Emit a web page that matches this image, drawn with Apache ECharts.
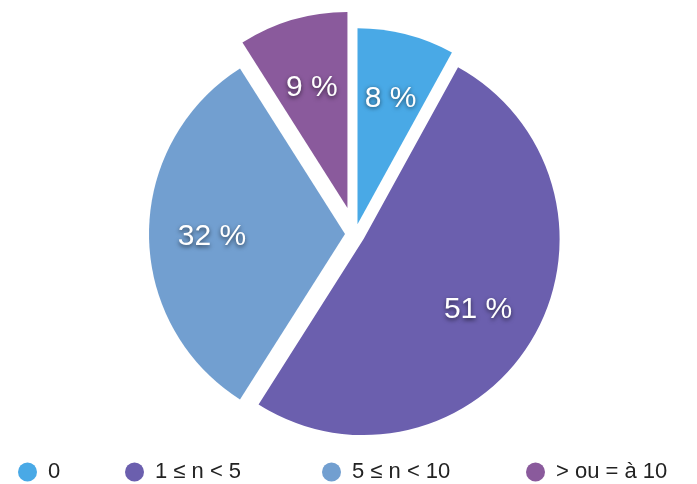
<!DOCTYPE html>
<html>
<head>
<meta charset="utf-8">
<script src="https://cdn.jsdelivr.net/npm/echarts@6/dist/echarts.min.js"></script>
<style>
html,body{margin:0;padding:0;background:#fff;}
#chart{width:697px;height:484px;}
</style>
</head>
<body>
<div id="chart"></div>
<script>
// ---- data ----
const categories = ['0', '1 ≤ n < 5', '5 ≤ n < 10', '> ou = à 10'];
const values = [8, 51, 32, 9];
const colors = ['#49a9e6', '#6b5fae', '#729fd0', '#8a5a9c'];
const farExploded = ['> ou = à 10'];

// ---- layout/style ----
const center = [355, 234];
const labelCenter = [355, 237];
const R = 196;
const labelFont = {
  color: '#ffffff',
  fontSize: 30,
  fontFamily: 'Liberation Sans, Arial, sans-serif',
  textShadowColor: 'rgba(0,0,0,0.6)',
  textShadowBlur: 4,
  textShadowOffsetY: 1.5
};

function pieSeries(visibleFn, offset, radius, withLabels, visibleSectors, ctr) {
  return {
    type: 'pie',
    center: ctr,
    radius: radius,
    startAngle: 90,
    clockwise: true,
    selectedMode: 'multiple',
    selectedOffset: offset,
    avoidLabelOverlap: false,
    silent: true,
    emphasis: { disabled: true },
    labelLine: { show: false },
    data: categories.map((c, i) => {
      const vis = visibleFn(c);
      return {
        name: c,
        value: values[i],
        selected: true,
        itemStyle: { color: (visibleSectors && vis) ? colors[i] : 'rgba(0,0,0,0)' },
        label: { show: withLabels && vis, position: 'inside', formatter: '{c} %', ...labelFont }
      };
    })
  };
}

const series = [
  pieSeries(c => !farExploded.includes(c), 10, [0, R], false, true, center),
  pieSeries(c => farExploded.includes(c), 27, [0, R], false, true, center),
  pieSeries(c => !farExploded.includes(c), 10, [64, R], true, false, labelCenter),
  pieSeries(c => farExploded.includes(c), 27, [54, R], true, false, labelCenter)
];

const legendLefts = [13, 120, 317, 521];
const legends = categories.map((c, i) => ({
  left: legendLefts[i],
  top: 456,
  icon: 'circle',
  itemWidth: 19,
  itemHeight: 19,
  selectedMode: false,
  textStyle: { fontSize: 22, color: '#222', fontFamily: 'Liberation Sans, Arial, sans-serif', padding: [0, 0, 0, 6] },
  data: [{ name: c, itemStyle: { color: colors[i] } }]
}));

const chart = echarts.init(document.getElementById('chart'), null, { renderer: 'canvas' });
chart.setOption({
  animation: false,
  backgroundColor: '#ffffff',
  legend: legends,
  series: series
});
</script>
</body>
</html>
